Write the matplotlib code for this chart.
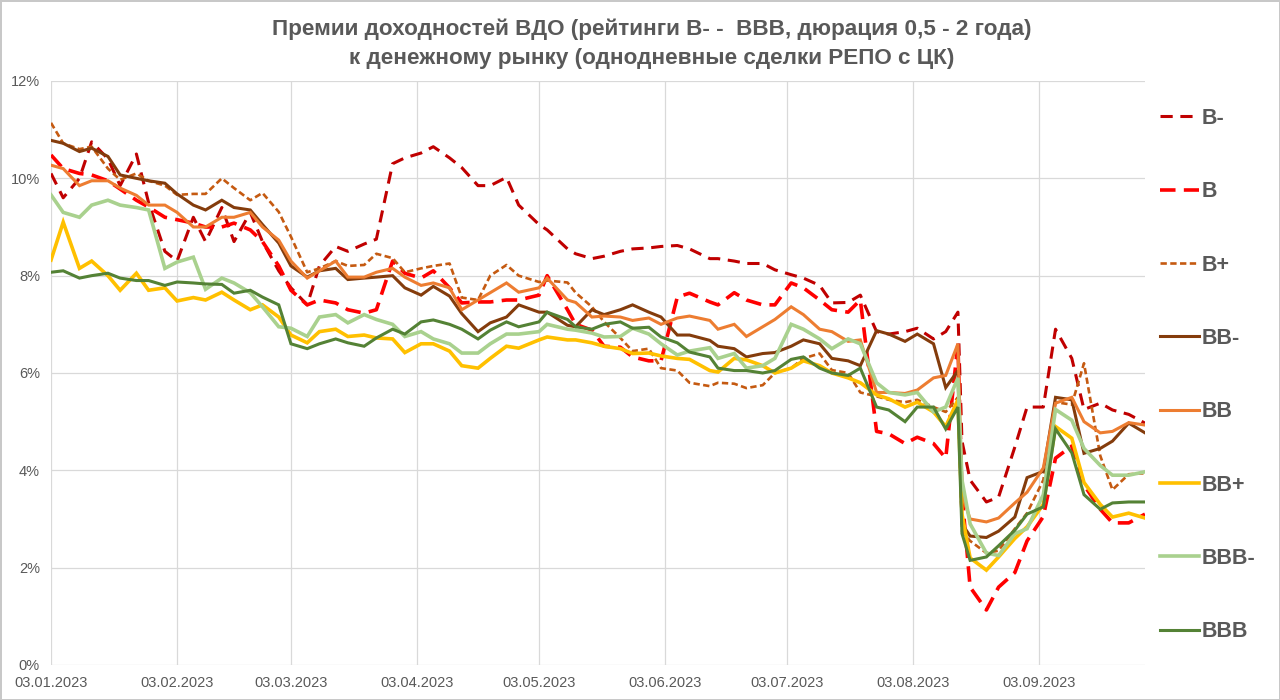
import pandas as pd
import numpy as np
import matplotlib
matplotlib.use("Agg")
import matplotlib.pyplot as plt
import matplotlib.dates as mdates
from matplotlib.ticker import FuncFormatter

plt.rcParams['font.family'] = ['Liberation Sans', 'DejaVu Sans']

# dates of the sampled points
dates = ["2023-01-03", "2023-01-06", "2023-01-10", "2023-01-13", "2023-01-17", "2023-01-20", "2023-01-24", "2023-01-27", "2023-01-31",
         "2023-02-03", "2023-02-07", "2023-02-10", "2023-02-14", "2023-02-17", "2023-02-21", "2023-02-24", "2023-02-28",
         "2023-03-03", "2023-03-07", "2023-03-10", "2023-03-14", "2023-03-17", "2023-03-21", "2023-03-24", "2023-03-28", "2023-03-31",
         "2023-04-04", "2023-04-07", "2023-04-11", "2023-04-14", "2023-04-18", "2023-04-21", "2023-04-25", "2023-04-28",
         "2023-05-03", "2023-05-05", "2023-05-10", "2023-05-12", "2023-05-16", "2023-05-19", "2023-05-23", "2023-05-26", "2023-05-30",
         "2023-06-02", "2023-06-06", "2023-06-09", "2023-06-14", "2023-06-16", "2023-06-20", "2023-06-23", "2023-06-27", "2023-06-30",
         "2023-07-04", "2023-07-07", "2023-07-11", "2023-07-14", "2023-07-18", "2023-07-21", "2023-07-25", "2023-07-28",
         "2023-08-01", "2023-08-04", "2023-08-08", "2023-08-11", "2023-08-14", "2023-08-15", "2023-08-17", "2023-08-21", "2023-08-24", "2023-08-28", "2023-08-31",
         "2023-09-04", "2023-09-07", "2023-09-11", "2023-09-14", "2023-09-18", "2023-09-21", "2023-09-25", "2023-09-29"]

# premiums, %
b_minus = [10.1, 9.6, 10.0, 10.75, 10.4, 9.85, 10.5, 9.5, 8.5,
           8.3, 9.2, 8.7, 9.4, 8.7, 9.3, 8.7, 8.1,
           7.75, 7.4, 8.2, 8.6, 8.5, 8.65, 8.75, 10.3, 10.42,
           10.52, 10.65, 10.42, 10.22, 9.85, 9.85, 10.02, 9.45,
           9.05, 8.94, 8.55, 8.45, 8.35, 8.4, 8.5, 8.55, 8.57,
           8.6, 8.62, 8.55, 8.35, 8.35, 8.3, 8.25, 8.25, 8.12,
           8.02, 7.95, 7.8, 7.44, 7.45, 7.6, 6.85, 6.8,
           6.85, 6.92, 6.7, 6.85, 7.25, 4.6, 3.8, 3.35, 3.45, 4.48, 5.3,
           5.3, 6.9, 6.3, 5.25, 5.38, 5.24, 5.15, 4.97]
b = [10.48, 10.2, 10.1, 10.07, 9.95, 9.78, 9.55, 9.41, 9.2,
     9.15, 9.08, 9.0, 9.0, 9.08, 8.94, 8.7, 8.2,
     7.7, 7.4, 7.5, 7.44, 7.3, 7.23, 7.3, 8.3, 8.05,
     7.95, 8.1, 7.75, 7.44, 7.46, 7.46, 7.5, 7.5,
     7.6, 8.0, 7.3, 7.0, 6.88, 6.55, 6.53, 6.33, 6.25,
     6.25, 7.56, 7.64, 7.46, 7.4, 7.65, 7.5, 7.4, 7.4,
     7.85, 7.75, 7.5, 7.3, 7.25, 7.5, 4.8, 4.75,
     4.55, 4.68, 4.55, 4.25, 6.6, 3.5, 1.6, 1.13, 1.6, 1.9, 2.55,
     3.05, 4.25, 4.5, 3.7, 3.2, 2.92, 2.92, 3.1]
b_plus = [11.14, 10.72, 10.6, 10.65, 10.2, 9.97, 10.1, 9.95, 9.85,
          9.66, 9.68, 9.68, 10.0, 9.8, 9.55, 9.7, 9.31,
          8.8, 8.07, 8.15, 8.3, 8.2, 8.22, 8.45, 8.36, 8.07,
          8.15, 8.2, 8.25, 7.55, 7.5, 8.0, 8.22, 8.0,
          7.87, 7.9, 7.86, 7.65, 7.36, 7.05, 6.72, 6.45, 6.5,
          6.1, 6.05, 5.8, 5.73, 5.8, 5.78, 5.69, 5.75, 6.0,
          6.1, 6.3, 6.4, 6.06, 6.0, 5.6, 5.52, 5.45,
          5.4, 5.45, 5.3, 5.2, 5.5, 2.75, 2.55, 2.3, 2.35, 2.8, 3.12,
          3.8, 5.4, 5.35, 6.2, 4.3, 3.6, 3.92, 3.94]
bb_minus = [10.78, 10.72, 10.55, 10.62, 10.45, 10.07, 10.0, 9.95, 9.9,
            9.68, 9.45, 9.35, 9.55, 9.4, 9.35, 9.05, 8.67,
            8.2, 7.97, 8.1, 8.15, 7.92, 7.95, 7.97, 8.0, 7.75,
            7.6, 7.78, 7.58, 7.22, 6.85, 7.03, 7.15, 7.4,
            7.25, 7.25, 6.98, 6.95, 7.3, 7.2, 7.3, 7.4, 7.25,
            7.15, 6.78, 6.78, 6.67, 6.55, 6.5, 6.33, 6.4, 6.42,
            6.55, 6.68, 6.6, 6.3, 6.25, 6.15, 6.87, 6.8,
            6.65, 6.8, 6.6, 5.7, 6.05, 2.9, 2.65, 2.62, 2.75, 3.04, 3.85,
            3.98, 5.5, 5.45, 4.35, 4.45, 4.6, 4.97, 4.77]
bb = [10.27, 10.2, 9.85, 9.95, 9.95, 9.8, 9.65, 9.45, 9.45,
      9.3, 9.0, 9.0, 9.2, 9.2, 9.3, 9.0, 8.73,
      8.3, 7.95, 8.1, 8.3, 7.97, 7.97, 8.07, 8.15, 7.97,
      7.8, 7.85, 7.75, 7.3, 7.5, 7.65, 7.85, 7.66,
      7.75, 7.95, 7.5, 7.45, 7.15, 7.17, 7.15, 7.08, 7.13,
      7.0, 7.13, 7.17, 7.08, 6.9, 7.0, 6.75, 6.95, 7.1,
      7.36, 7.2, 6.9, 6.85, 6.65, 6.68, 5.6, 5.6,
      5.58, 5.65, 5.9, 5.95, 6.6, 3.5, 3.0, 2.94, 3.02, 3.33, 3.55,
      4.05, 5.38, 5.5, 5.0, 4.77, 4.8, 4.98, 4.93]
bb_plus = [8.32, 9.1, 8.15, 8.3, 8.0, 7.7, 8.05, 7.7, 7.75,
           7.48, 7.55, 7.5, 7.66, 7.5, 7.3, 7.4, 7.15,
           6.78, 6.62, 6.85, 6.9, 6.75, 6.78, 6.72, 6.7, 6.42,
           6.6, 6.6, 6.45, 6.15, 6.1, 6.3, 6.55, 6.51,
           6.68, 6.74, 6.68, 6.68, 6.62, 6.55, 6.5, 6.4, 6.41,
           6.35, 6.3, 6.28, 6.05, 6.02, 6.3, 6.27, 6.15, 6.0,
           6.1, 6.25, 6.15, 6.0, 5.9, 5.8, 5.55, 5.47,
           5.3, 5.4, 5.2, 4.9, 5.45, 3.1, 2.2, 1.95, 2.22, 2.6, 2.84,
           3.3, 4.9, 4.66, 3.75, 3.3, 3.04, 3.12, 3.02]
bbb_minus = [9.66, 9.3, 9.2, 9.45, 9.55, 9.45, 9.4, 9.35, 8.15,
             8.28, 8.38, 7.72, 7.95, 7.85, 7.65, 7.36, 6.95,
             6.92, 6.75, 7.15, 7.2, 7.03, 7.2, 7.1, 7.0, 6.75,
             6.85, 6.7, 6.6, 6.41, 6.41, 6.6, 6.8, 6.8,
             6.85, 7.0, 6.9, 6.88, 6.82, 6.74, 6.75, 6.92, 6.8,
             6.6, 6.37, 6.45, 6.52, 6.3, 6.4, 6.1, 6.15, 6.3,
             7.0, 6.9, 6.7, 6.5, 6.7, 6.6, 5.8, 5.6,
             5.55, 5.6, 5.2, 5.3, 5.9, 3.8, 2.9, 2.3, 2.25, 2.7, 2.8,
             3.5, 5.25, 5.03, 4.45, 4.1, 3.9, 3.9, 3.97]
bbb = [8.07, 8.1, 7.95, 8.0, 8.05, 7.95, 7.9, 7.9, 7.8,
       7.87, 7.85, 7.83, 7.82, 7.64, 7.7, 7.56, 7.4,
       6.6, 6.5, 6.6, 6.7, 6.62, 6.55, 6.72, 6.9, 6.8,
       7.05, 7.09, 7.0, 6.9, 6.7, 6.88, 7.05, 6.95,
       7.05, 7.25, 7.1, 6.95, 6.9, 7.0, 7.05, 6.92, 6.94,
       6.74, 6.62, 6.43, 6.33, 6.1, 6.05, 6.05, 6.0, 6.05,
       6.28, 6.33, 6.1, 6.0, 5.95, 6.1, 5.3, 5.24,
       5.0, 5.3, 5.3, 4.85, 5.3, 2.7, 2.15, 2.22, 2.45, 2.77, 3.1,
       3.25, 4.85, 4.36, 3.5, 3.2, 3.33, 3.35, 3.35]

labels = ["B-", "B", "B+", "BB-", "BB", "BB+", "BBB-", "BBB"]
colors = ["#C00000", "#FF0000", "#C55A11", "#843C0C", "#ED7D31", "#FFC000", "#A9D18E", "#548235"]
widths = [2.2, 2.6, 1.9, 2.2, 2.2, 2.6, 2.6, 2.2]
dash_list = [(4.0, 2.5), (4.3, 2.3), (2.4, 1.3), None, None, None, None, None]

x = pd.to_datetime(dates)
series = [b_minus, b, b_plus, bb_minus, bb, bb_plus, bbb_minus, bbb]

gray = "#595959"
fig = plt.figure(figsize=(12.8, 7), dpi=100)
fig.patch.set_edgecolor("#c8c8c8")
fig.patch.set_linewidth(2)
ax = fig.add_axes([51 / 1280, 1 - 665 / 700, (1145 - 51) / 1280, (665 - 81) / 700])

for vals, lab, col, lw, ds in zip(series, labels, colors, widths, dash_list):
    line, = ax.plot(x, vals, color=col, lw=lw, label=lab, solid_joinstyle="miter")
    if ds is not None:
        line.set_dashes(ds)

ax.set_ylim(0, 12)
ax.set_yticks(np.arange(0, 13, 2))
ax.yaxis.set_major_formatter(FuncFormatter(lambda v, p: f"{v:.0f}%"))
ax.set_xlim(pd.Timestamp("2023-01-03"), pd.Timestamp("2023-09-29"))
ticks = pd.to_datetime(["2023-01-03", "2023-02-03", "2023-03-03", "2023-04-03", "2023-05-03",
                        "2023-06-03", "2023-07-03", "2023-08-03", "2023-09-03"])
ax.set_xticks(ticks)
ax.xaxis.set_major_formatter(mdates.DateFormatter("%d.%m.%Y"))
ax.grid(True, color="#d9d9d9", lw=0.9)
ax.set_axisbelow(True)
for s in ax.spines.values():
    s.set_visible(False)
ax.tick_params(length=0, colors=gray, labelsize=10.5, pad=8)

fig.text(0.509, 0.973, "Премии доходностей ВДО (рейтинги B- -  BBB, дюрация 0,5 - 2 года)\nк денежному рынку (однодневные сделки РЕПО с ЦК)",
         ha="center", va="top", fontsize=16.2, fontweight="bold", color=gray, linespacing=1.45)

leg = fig.legend(loc="upper left", bbox_to_anchor=(1160 / 1280, 1 - 108 / 700), frameon=False,
                 fontsize=15.5, handlelength=1.8, handletextpad=0.15, labelspacing=2.43,
                 borderpad=0, borderaxespad=0)
for t in leg.get_texts():
    t.set_color(gray)
    t.set_fontweight("bold")

plt.savefig("out.png", dpi=100)
